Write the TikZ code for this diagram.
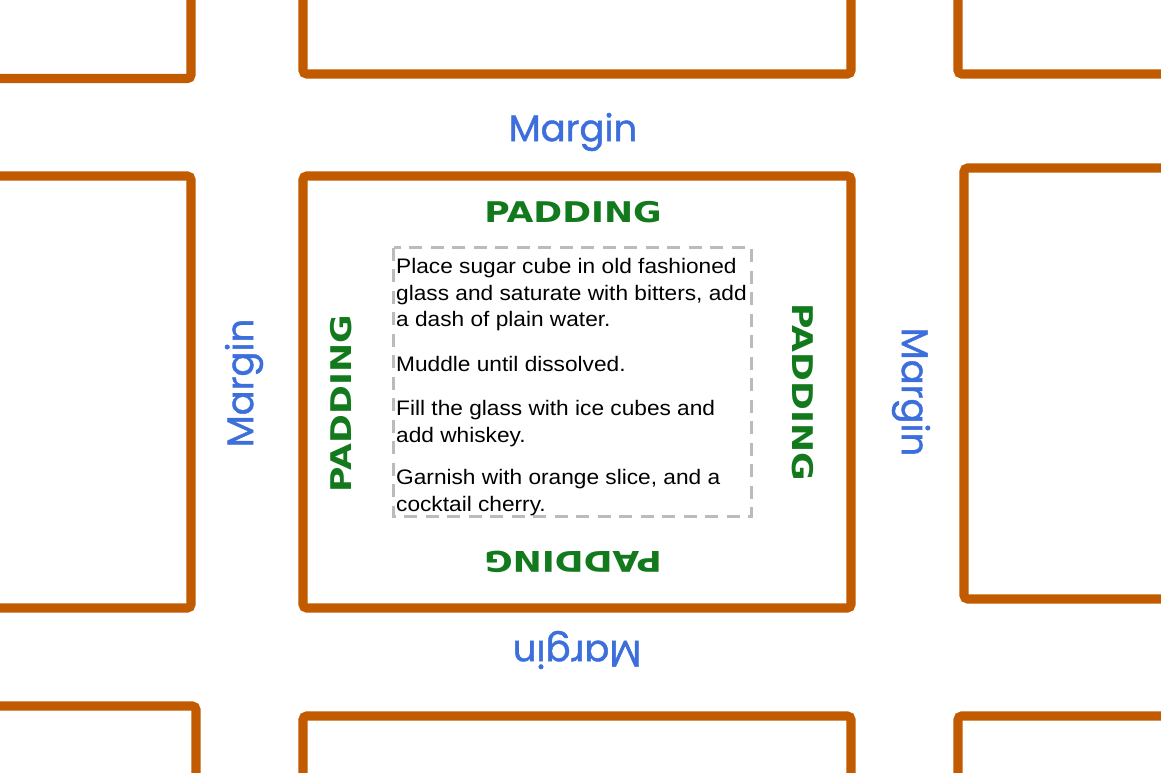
\documentclass[tikz,border=0pt]{standalone}
\usepackage{fontspec}
\setmainfont{Liberation Sans}[FakeStretch=1.08]
\newfontfamily\handfont{Poppins}[FakeBold=1.2]
\newfontfamily\widefont{DejaVu Sans}[FakeStretch=1.22]
\usepackage{tikz}
\usetikzlibrary{positioning}
\definecolor{boxline}{HTML}{C25A00}
\definecolor{margintext}{HTML}{3C6FDC}
\definecolor{paddingtext}{HTML}{127A1C}
\definecolor{dashgray}{HTML}{BBBBBB}

\tikzset{
  boxedge/.style={draw=boxline, line width=9.3pt, rounded corners=4pt},
  contentbox/.style={draw=dashgray, line width=3.3pt, dash pattern=on 13pt off 8.5pt},
  marginlbl/.style={text=margintext, inner sep=0pt, font=\handfont\fontsize{37}{37}\selectfont},
  paddinglbl/.style={text=paddingtext, inner sep=0pt, font=\widefont\bfseries\fontsize{28.5}{28.5}\selectfont}
}

\begin{document}
\begin{tikzpicture}[x=1pt, y=-1pt]
  \useasboundingbox (0,0) rectangle (1161,773);
  \clip (0,0) rectangle (1161,773);

  % Boxes (3 x 3 grid, outer ones cut off by the page edge)
  \foreach \xa/\ya/\xb/\yb in {-20/-20/191/78.6, 303/-20/851/74, 958/-20/1180/74,
                                -20/176/191/608, 303/176/851/608, 964/168/1180/599,
                                -20/706/196/800, 303/716/851/800, 958/716/1180/800} {
    \draw[boxedge] (\xa,\ya) rectangle (\xb,\yb);
  }

  % Content area of the middle box
  \draw[contentbox] (393.5,247.5) rectangle (751.5,516.5);
  \node[anchor=north west, inner sep=0pt, align=left,
        font=\fontsize{21}{26.5}\selectfont] (steps) at (396,258.5)
    {Place sugar cube in old fashioned\\
     glass and saturate with bitters, add\\
     a dash of plain water.\\[18pt]
     Muddle until dissolved.\\[18pt]
     Fill the glass with ice cubes and\\
     add whiskey.\\[16pt]
     Garnish with orange slice, and a\\
     cocktail cherry.};

  % Padding labels (inside the border)
  \node[paddinglbl] (padT) at (573,212) {PADDING};
  \node[paddinglbl, rotate=90] (padL) at (341.5,404) {PADDING};
  \node[paddinglbl, rotate=-90] (padR) at (803,392) {PADDING};
  \node[paddinglbl, rotate=180] (padB) at (573,562) {PADDING};

  % Margin labels (between the boxes)
  \node[marginlbl] (marT) at (573,132) {Margin};
  \node[marginlbl, rotate=90] (marL) at (244,383) {Margin};
  \node[marginlbl, rotate=-90] (marR) at (911,392) {Margin};
  \node[marginlbl, rotate=180] (marB) at (577,650) {Margin};
\end{tikzpicture}
\end{document}
